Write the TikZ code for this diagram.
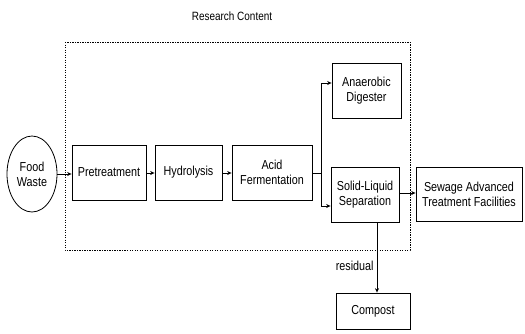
\documentclass[tikz,border=0pt]{standalone}
\usepackage{fontspec}
\setmainfont[FakeStretch=0.83]{Liberation Sans}
\usetikzlibrary{arrows.meta,shapes.geometric}
\begin{document}
\begin{tikzpicture}[x=1pt,y=-1pt,
  every node/.style={font=\fontsize{13}{15}\selectfont},
  stagebox/.style={draw,line width=0.8pt,inner sep=0pt,align=center},
  flow/.style={line width=0.7pt,-{Stealth[length=4.5pt,width=4pt]}},
  region/.style={line width=0.7pt,dash pattern=on 1.2pt off 1.3pt}]
\useasboundingbox (0,0) rectangle (525,333);
\draw[region] (65,42) rectangle (410,250);
\node (title) at (232,16) {\fontsize{12}{14}\selectfont Research Content};
\node[ellipse,draw,line width=0.8pt,minimum width=50pt,minimum height=76pt,inner sep=0pt,align=center] (food) at (32,174) {Food\\Waste};
\node[stagebox,minimum width=74pt,minimum height=55pt] (pre) at (109,172.5) {Pretreatment};
\node[stagebox,minimum width=67pt,minimum height=55pt] (hyd) at (188.5,172.5) {Hydrolysis};
\node[stagebox,minimum width=80pt,minimum height=55pt] (acid) at (272,172.5) {Acid\\Fermentation};
\node[stagebox,minimum width=69pt,minimum height=55pt] (ana) at (366.5,90.5) {Anaerobic\\Digester};
\node[stagebox,minimum width=68pt,minimum height=55pt] (sl) at (365,194.5) {Solid-Liquid\\Separation};
\node[stagebox,minimum width=106pt,minimum height=54pt] (sew) at (469,194) {Sewage Advanced\\Treatment Facilities};
\node[stagebox,minimum width=74pt,minimum height=36pt] (comp) at (373,311) {Compost};
\coordinate (split) at (321,173);
\draw[flow] (food.east |- 0,174) -- (pre.west |- 0,174);
\draw[flow] (pre.east |- 0,173) -- (hyd.west |- 0,173);
\draw[flow] (hyd.east |- 0,173) -- (acid.west |- 0,173);
\draw[line width=0.7pt] (acid.east |- split) -- (split);
\draw[flow] (split) -- (321,83) -- (ana.west |- 0,83);
\draw[flow] (split) -- (321,206) -- (sl.west |- 0,206);
\draw[flow] (sl.east |- 0,193) -- (sew.west |- 0,193);
\draw[flow] (sl.south -| 377,0) -- node[left,pos=0.62,inner sep=3pt] (res) {residual} (comp.north -| 377,0);
\end{tikzpicture}
\end{document}
